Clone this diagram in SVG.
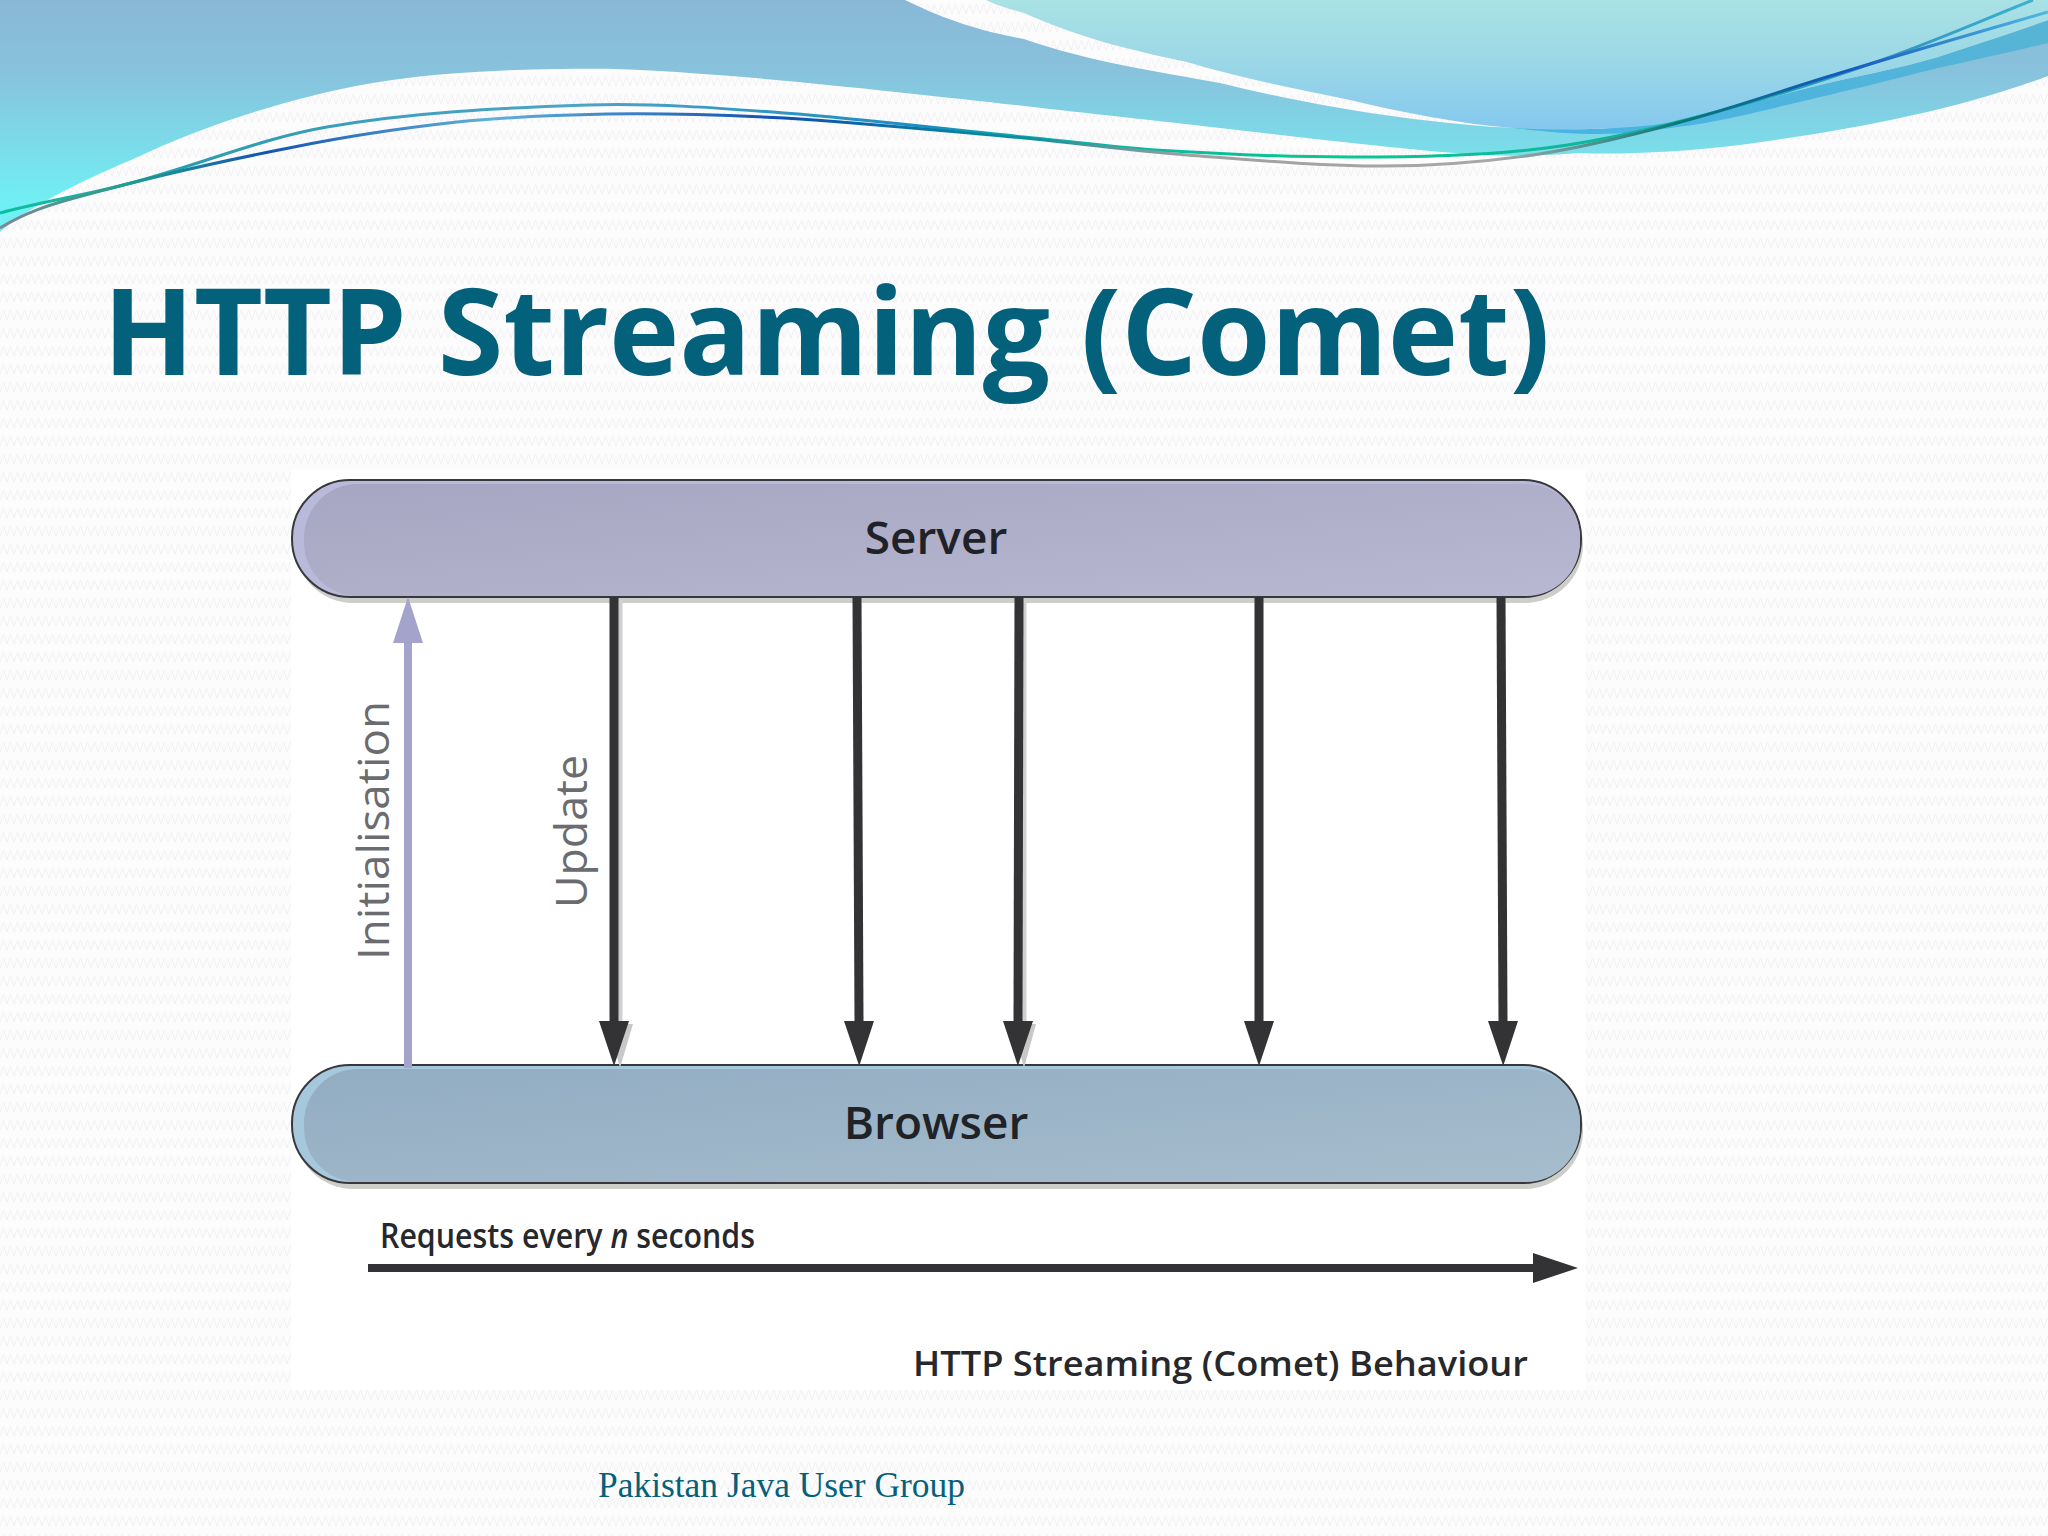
<svg xmlns="http://www.w3.org/2000/svg" width="2048" height="1536" viewBox="0 0 2048 1536">
<style>
.diagram{font-family:"Open Sans","Noto Sans","Liberation Sans",sans-serif}
.pillLabel{font-size:46px;font-weight:600;fill:#1f2226;text-anchor:middle}
.side{font-size:44px;fill:#6a6c70}
.note{font-size:34px;font-weight:600;fill:#26282c}
.shaft{stroke:#333336;stroke-width:9;fill:none}
.shadow{stroke:#cfcfcf;stroke-width:5;fill:none}
.headS{fill:#c8c8c8}
.curve{fill:none;stroke-width:3}
</style>
<defs>
<pattern id="weave" width="14" height="18" patternUnits="userSpaceOnUse"><path d="M0 14L3.500 4L7 14L10.500 4L14 14" fill="none" stroke="#f1f1f5" stroke-width="1"/></pattern>
<linearGradient id="bandA" gradientUnits="userSpaceOnUse" x1="0" y1="0" x2="0" y2="205"><stop offset="0" stop-color="#88b8d6"/><stop offset=".35" stop-color="#88c2dc"/><stop offset="1" stop-color="#70f0f4"/></linearGradient>
<linearGradient id="bandB" x1="0" y1="0" x2="0" y2="1"><stop offset="0" stop-color="#a9e2e4"/><stop offset=".45" stop-color="#9cd8e6"/><stop offset="1" stop-color="#84c8ee"/></linearGradient>
<linearGradient id="bandC" x1="0" y1="1" x2="1" y2="0"><stop offset="0" stop-color="#48b4e4"/><stop offset="1" stop-color="#58b4d4"/></linearGradient>
<linearGradient id="lineG" gradientUnits="userSpaceOnUse" x1="0" y1="0" x2="2048" y2="0"><stop offset="0" stop-color="#08c0a0"/><stop offset=".1" stop-color="#2d9cb0"/><stop offset=".28" stop-color="#4ea4c8"/><stop offset=".45" stop-color="#1a8cc0"/><stop offset=".5" stop-color="#08b0a8"/><stop offset=".65" stop-color="#08c890"/><stop offset=".82" stop-color="#10b0a0"/><stop offset=".92" stop-color="#3096c0"/><stop offset="1" stop-color="#40b4d0"/></linearGradient>
<linearGradient id="lineB" gradientUnits="userSpaceOnUse" x1="0" y1="0" x2="2048" y2="0"><stop offset="0" stop-color="#808890"/><stop offset=".06" stop-color="#20a090"/><stop offset=".13" stop-color="#1454b0"/><stop offset=".24" stop-color="#60b0dc"/><stop offset=".38" stop-color="#1050b0"/><stop offset=".5" stop-color="#08909c"/><stop offset=".58" stop-color="#a0a0a0"/><stop offset=".73" stop-color="#a8a8a8"/><stop offset=".82" stop-color="#087878"/><stop offset=".9" stop-color="#1458c0"/><stop offset="1" stop-color="#50b8e0"/></linearGradient>
<linearGradient id="serverFill" x1="0" y1="0" x2="1" y2="1"><stop offset="0" stop-color="#a6a6c2"/><stop offset="1" stop-color="#b8b8d2"/></linearGradient>
<linearGradient id="browserFill" x1="0" y1="0" x2="1" y2="1"><stop offset="0" stop-color="#92acc2"/><stop offset="1" stop-color="#a6bdcd"/></linearGradient>
<marker id="headDark" markerUnits="userSpaceOnUse" markerWidth="46" markerHeight="32" refX="0" refY="15" orient="auto"><path d="M0 0L45 15L0 30Z" fill="#333336"/></marker>
<marker id="headInit" markerUnits="userSpaceOnUse" markerWidth="48" markerHeight="32" refX="0" refY="15" orient="auto"><path d="M0 0L46 15L0 30Z" fill="#a3a3cc"/></marker>
</defs>
<g id="background">
<rect width="2048" height="1536" fill="#fcfcfd"/>
<rect width="2048" height="1536" fill="url(#weave)"/>
<path d="M0 0L905 0C950 22 985 32 1024 39C1090 62 1160 72 1220 83C1320 108 1420 122 1494 127L1600 130L2048 40L2048 76C1950 112 1850 130 1740 145C1680 152 1620 155 1579 153C1540 156 1497 157 1455 153C1380 147 1300 137 1220 128C1160 121 1085 113 1024 106C944 97 820 83 718 75C640 69 609 68 555 69C500 70 441 73 392 80C343 87 304 97 261 110C217 123 174 140 131 160C95 175 30 205 0 232Z" fill="url(#bandA)"/>
<path d="M986 0C998 6 1010 9 1024 13C1080 38 1130 50 1187 62C1240 78 1300 90 1350 100C1400 112 1460 124 1514 128C1560 131 1620 130 1677 122C1730 110 1770 98 1808 88C1850 77 1895 70 1938 57C1975 45 2015 32 2048 20L2048 0Z" fill="url(#bandB)"/>
<path d="M1514 128C1560 131 1620 130 1677 122C1730 110 1770 98 1808 88C1850 77 1895 70 1938 57C1975 45 2015 32 2048 20L2048 43C2010 52 1975 60 1938 68C1895 79 1850 90 1808 100C1765 110 1720 122 1677 127C1650 131 1625 134 1599 134C1570 134 1540 131 1514 128Z" fill="url(#bandC)"/>
<path class="curve" d="M0 213C44 201 87 195 131 183C196 166 262 138 327 127C414 112 501 108 588 105C653 103 719 108 784 113C864 119 944 129 1024 137C1068 141 1111 147 1155 150C1220 154 1285 157 1350 157C1415 157 1481 156 1546 148C1603 141 1659 127 1716 112C1768 98 1821 81 1873 63C1926 45 1980 21 2033 0" stroke="url(#lineG)"/>
<path class="curve" d="M0 228C26 212 52 204 78 197C150 177 222 161 294 147C348 136 403 128 457 122C507 117 557 115 607 114C666 113 725 115 784 118C864 123 944 131 1024 138C1078 143 1133 151 1187 155C1252 160 1318 166 1383 166C1433 166 1483 162 1533 155C1581 148 1629 136 1677 123C1731 109 1786 89 1840 73C1909 52 1979 32 2048 12" stroke="url(#lineB)"/>
<rect x="291" y="470" width="1295" height="920" fill="#ffffff"/>
</g>
<text id="title" x="103" y="375" textLength="1447" lengthAdjust="spacingAndGlyphs" style="font-family:'Open Sans','Noto Sans',sans-serif;font-size:120px;font-weight:700;fill:#04617b">HTTP Streaming (Comet)</text>
<g id="server" class="diagram">
<rect x="295" y="486" width="1288" height="117" rx="58" fill="#cdcdca"/>
<rect x="292" y="480" width="1289" height="117" rx="58" fill="#b9b9dc" stroke="#38383c" stroke-width="2"/>
<rect x="304" y="484" width="1276" height="112" rx="54" fill="url(#serverFill)"/>
<text class="pillLabel" x="936" y="554">Server</text>
</g>
<g id="browser" class="diagram">
<rect x="295" y="1071" width="1288" height="118" rx="58" fill="#cdcdca"/>
<rect x="292" y="1065" width="1289" height="118" rx="58" fill="#a6c8dc" stroke="#38383c" stroke-width="2"/>
<rect x="304" y="1069" width="1276" height="113" rx="54" fill="url(#browserFill)"/>
<text class="pillLabel" x="936" y="1139">Browser</text>
</g>
<g id="connectors">
<path class="shadow" d="M620 600V1022"/><path class="headS" d="M608 1024L633 1024L620 1068Z"/>
<path class="shadow" d="M1024 600V1022"/><path class="headS" d="M1012 1024L1036 1024L1024 1068Z"/>
<line x1="408" y1="1068" x2="408" y2="643" stroke="#a3a3cc" stroke-width="8" marker-end="url(#headInit)"/>
<line class="shaft" x1="614" y1="597" x2="614" y2="1021" marker-end="url(#headDark)"/>
<line class="shaft" x1="857" y1="597" x2="859" y2="1021" marker-end="url(#headDark)"/>
<line class="shaft" x1="1019" y1="597" x2="1018" y2="1021" marker-end="url(#headDark)"/>
<line class="shaft" x1="1259" y1="597" x2="1259" y2="1021" marker-end="url(#headDark)"/>
<line class="shaft" x1="1501" y1="597" x2="1503" y2="1021" marker-end="url(#headDark)"/>
<line class="shaft" x1="368" y1="1268" x2="1533" y2="1268" style="stroke-width:8" marker-end="url(#headDark)"/>
</g>
<g id="labels" class="diagram">
<text class="side" transform="translate(389 960) rotate(-90)" textLength="259" lengthAdjust="spacingAndGlyphs">Initialisation</text>
<text class="side" transform="translate(587 908) rotate(-90)" textLength="153" lengthAdjust="spacingAndGlyphs">Update</text>
<text class="note" x="380" y="1248" textLength="375" lengthAdjust="spacingAndGlyphs">Requests every <tspan font-style="italic">n</tspan> seconds</text>
<text class="note" x="913" y="1376" textLength="615" lengthAdjust="spacingAndGlyphs">HTTP Streaming (Comet) Behaviour</text>
</g>
<text id="footer" x="598" y="1497" textLength="367" lengthAdjust="spacingAndGlyphs" style="font-family:'Liberation Serif',serif;font-size:35px;fill:#04617b">Pakistan Java User Group</text>
</svg>
